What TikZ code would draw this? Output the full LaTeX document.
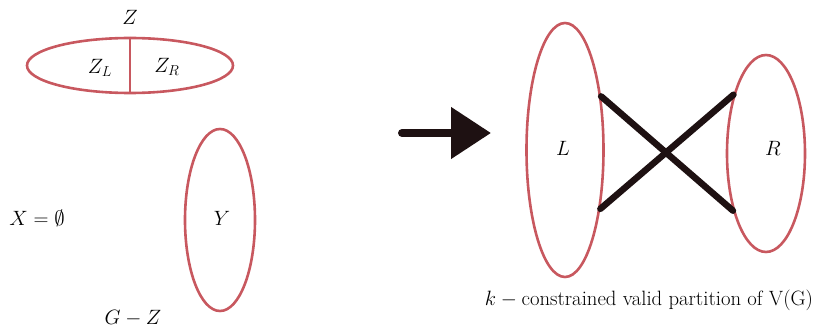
\documentclass[tikz,border=0pt]{standalone}
\usetikzlibrary{shapes.geometric,arrows.meta}
\definecolor{setred}{HTML}{C8585F}
\definecolor{inkdark}{HTML}{1E1112}
\begin{document}
\begin{tikzpicture}[x=1pt,y=-1pt,
  setell/.style={draw=setred,line width=2.6pt,ellipse,inner sep=0pt},
  lbl/.style={font=\LARGE,scale=1.2,inner sep=0pt},
  edgeline/.style={draw=inkdark,line width=6.5pt,line cap=round}]
\useasboundingbox (0,0) rectangle (815,329);
% left part
\node[setell,minimum width=206pt,minimum height=55pt] (Z) at (130,65.5) {};
\draw[setred,line width=2.6pt] (Z.north) -- (Z.south);
\node[lbl] (zt) at (130,17) {$Z$};
\node[lbl] (zl) at (100,68) {$Z_L$};
\node[lbl] (zr) at (167,67) {$Z_R$};
\node[setell,minimum width=70pt,minimum height=182pt] (Y) at (220,220) {};
\node[lbl] (yl) at (222,218) {$Y$};
\node[lbl] (x) at (37,218) {$X=\emptyset$};
\node[lbl] (gz) at (133,318) {$G-Z$};
% arrow
\coordinate (as) at (402,133);
\coordinate (ae) at (491,133);
\draw[inkdark,line width=8pt,line cap=round,-{Triangle[length=40pt,width=50pt]}] (as) -- (ae);
% right part
\node[setell,minimum width=77pt,minimum height=254pt] (L) at (565,150) {};
\node[setell,minimum width=78pt,minimum height=197pt] (R) at (766,153.5) {};
\node[lbl] (ll) at (563,148) {$L$};
\node[lbl] (rl) at (773,148) {$R$};
\draw[edgeline] (L.56) -- (R.240);
\draw[edgeline] (L.301) -- (R.119);
\node[lbl] (cap) at (649,300) {$k-{}$constrained valid partition of V(G)};
\end{tikzpicture}
\end{document}
